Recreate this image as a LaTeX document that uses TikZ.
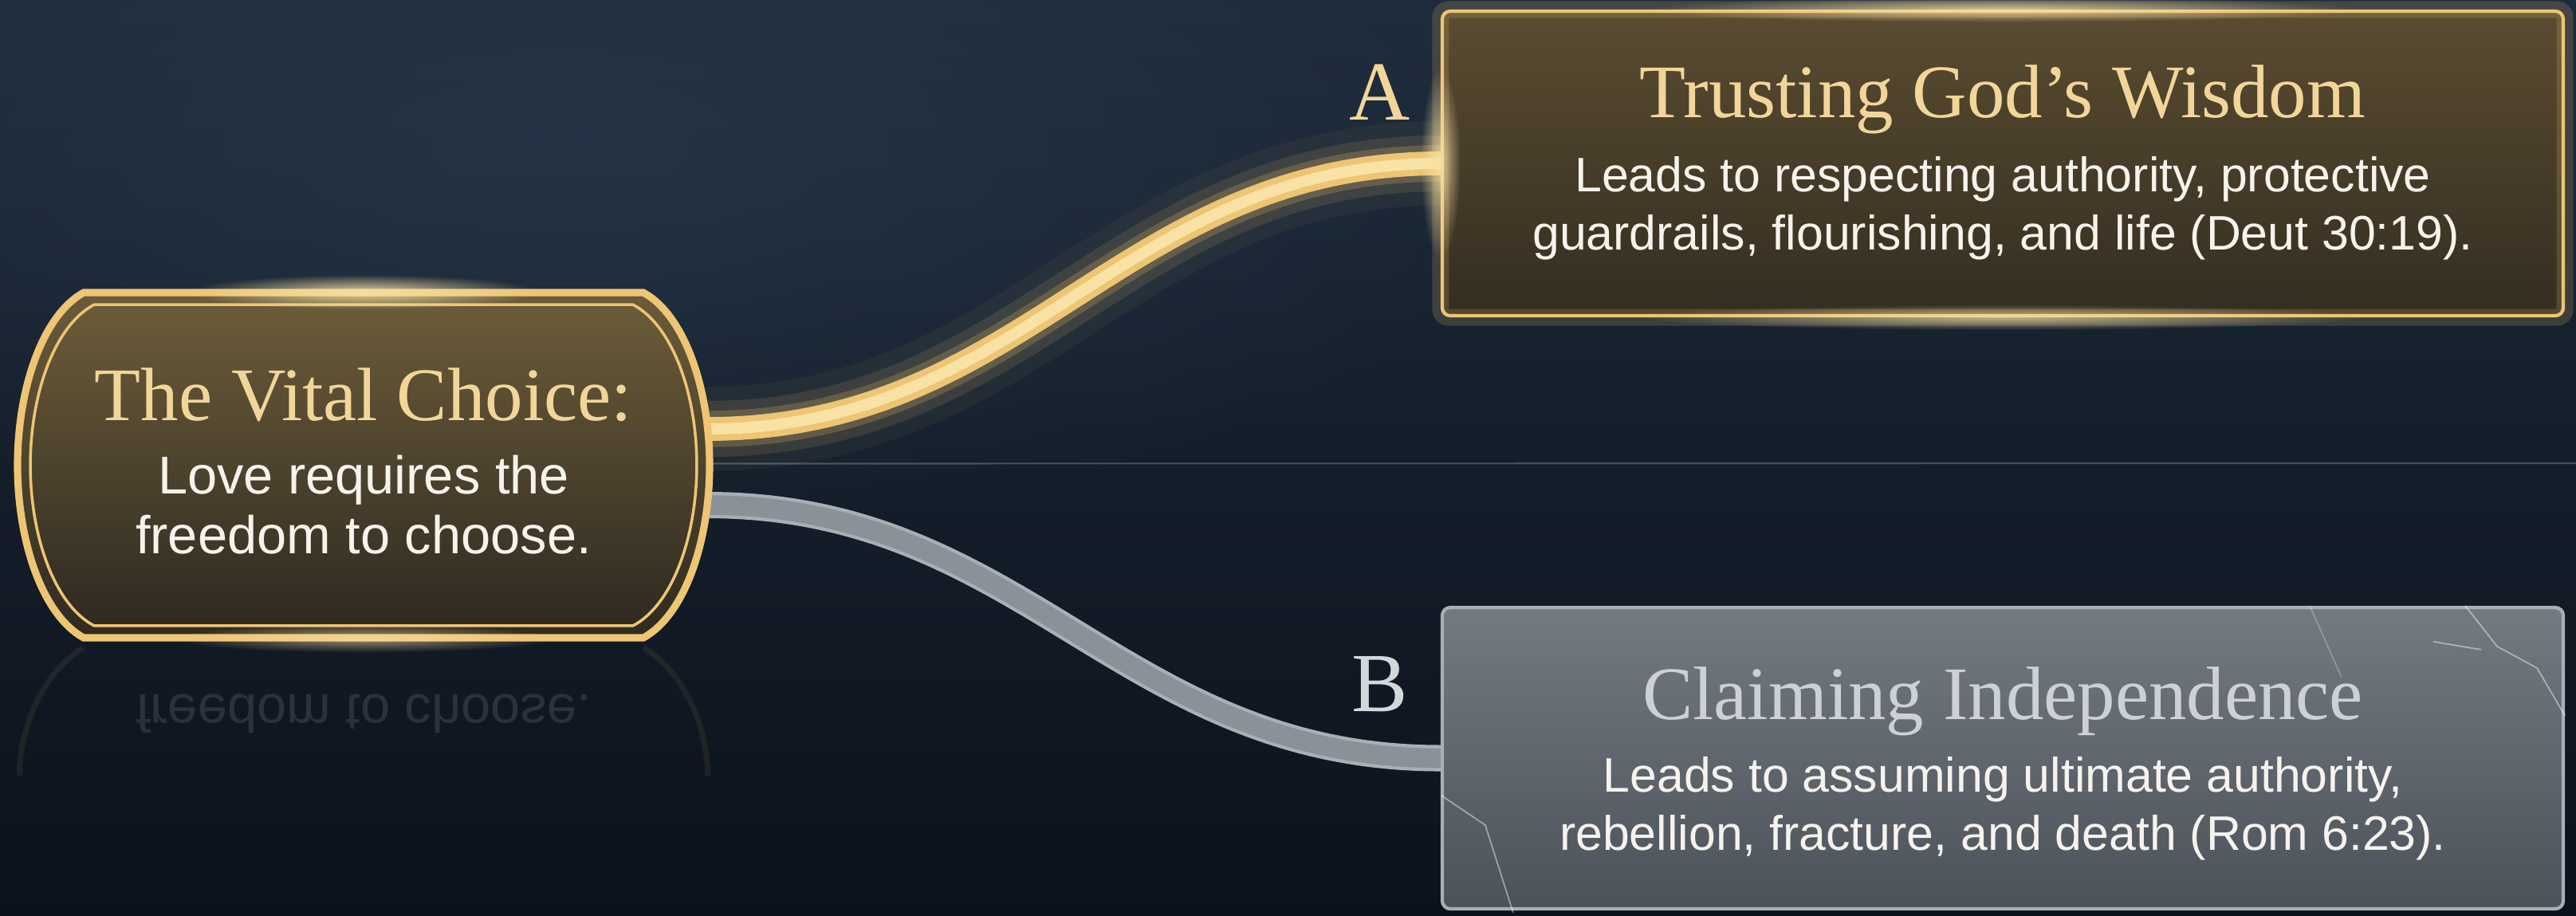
\documentclass[tikz,border=0pt]{standalone}
\usepackage{fontspec}
\setmainfont{Liberation Serif}
\setsansfont{Liberation Sans}
\usepackage{xcolor}
\usetikzlibrary{positioning, calc, fadings}

\definecolor{bgtop}{HTML}{1E2B3B}
\definecolor{bgbot}{HTML}{0B121B}
\definecolor{bglight}{HTML}{2C3D50}
\definecolor{goldline}{HTML}{EDC573}
\definecolor{goldlight}{HTML}{F9E2A6}
\definecolor{goldtext}{HTML}{F2D699}
\definecolor{goldtop}{HTML}{5A4C31}
\definecolor{goldbot}{HTML}{342D21}
\definecolor{choicetop}{HTML}{6B5B39}
\definecolor{choicebot}{HTML}{2F2A21}
\definecolor{greyline}{HTML}{A9AFB6}
\definecolor{greytop}{HTML}{737A82}
\definecolor{greybot}{HTML}{4B525A}
\definecolor{greytext}{HTML}{CDD1D6}
\definecolor{greypath}{HTML}{8A9199}
\definecolor{bodytext}{HTML}{F6F3EC}

\tikzfading[name=glowfade, inner color=transparent!0, outer color=transparent!100]

\pgfdeclarelayer{bg}
\pgfdeclarelayer{links}
\pgfsetlayers{bg,links,main}

\tikzset{
	pathbox/.style={rectangle, rounded corners=1mm, minimum width=14.06cm, minimum height=3.82cm, line width=1.2pt},
	goodbox/.style={pathbox, draw=goldline, top color=goldtop, bottom color=goldbot},
	badbox/.style={pathbox, draw=greyline, top color=greytop, bottom color=greybot, minimum height=3.78cm},
	choicebox/.style={rectangle, minimum width=7.02cm, minimum height=4.33cm, inner sep=0pt},
	heading/.style={font=\fontsize{27}{31}\selectfont, anchor=base},
	bodyline/.style={font=\sffamily\fontsize{17.3}{21}\selectfont, text=bodytext, align=center},
	glowline/.style={line cap=round}
}

\begin{document}
\begin{tikzpicture}[
		letter/.style={font=\fontsize{30}{34}\selectfont, anchor=base},
		crack/.style={white, opacity=0.45, line width=0.5pt}
		]
		\useasboundingbox (0,0) rectangle (32.31,-11.48);
		
		% --- Background ---
		\begin{pgfonlayer}{bg}
			\shade[top color=bgtop, bottom color=bgbot] (0,0) rectangle (32.31,-11.48);
			\fill[bglight, opacity=0.6, path fading=glowfade] (7,-1.8) ellipse (13 and 5);
		\end{pgfonlayer}
		
		% --- Main Nodes ---
		\node[choicebox] (choice) at (4.56,-5.835) {};
		\node[goodbox] (wisdom) at (25.12,-2.05) {};
		\node[badbox] (independence) at (25.12,-9.51) {};
		
		% --- Exit points on the bulged side of the choice plate ---
		\coordinate (choice_out_a) at ($(choice.east)+(0.80,0.455)$);
		\coordinate (choice_out_b) at ($(choice.east)+(0.79,-0.50)$);
		\coordinate (horizon_end) at (32.31,-5.81);
		
		% --- Connectors (under the boxes) ---
		\begin{pgfonlayer}{links}
			\draw[greyline, opacity=0.35, line width=0.6pt] ($(choice.east)+(0.83,0.02)$) -- (horizon_end);
			% gold path with glow
			\foreach \lw/\op in {30pt/0.05, 20pt/0.12, 13pt/0.22}
				\draw[glowline, goldline, line width=\lw, opacity=\op] (choice_out_a) .. controls +(4,0) and +(-4,0) .. (wisdom.west);
			\draw[goldline, line width=8.5pt] (choice_out_a) .. controls +(4,0) and +(-4,0) .. (wisdom.west);
			\draw[goldlight, line width=4pt] (choice_out_a) .. controls +(4,0) and +(-4,0) .. (wisdom.west);
			% stone path
			\draw[greyline, line width=9.4pt] (choice_out_b) .. controls +(4,0) and +(-4,0) .. (independence.west);
			\draw[greypath, line width=7pt] (choice_out_b) .. controls +(4,0) and +(-4,0) .. (independence.west);
		\end{pgfonlayer}
		
		% --- Choice plate: outer and inner frame ---
		\foreach \sx/\sy/\lw in {1/1/2.6pt, 0.963/0.93/1pt}
			\draw[goldline, line width=\lw, top color=choicetop, bottom color=choicebot,
				shift={(choice.center)}, xscale=\sx, yscale=\sy]
				(-3.51,2.165) -- (3.51,2.165)
				.. controls (4.03,1.88) and (4.34,0.95) .. (4.34,0)
				.. controls (4.34,-0.95) and (4.03,-1.88) .. (3.51,-2.165)
				-- (-3.51,-2.165)
				.. controls (-4.03,-1.88) and (-4.34,-0.95) .. (-4.34,0)
				.. controls (-4.34,0.95) and (-4.03,1.88) .. (-3.51,2.165) -- cycle;
		\fill[goldlight, opacity=0.9, path fading=glowfade] (choice.north) ellipse (2.2 and 0.22);
		\fill[goldlight, opacity=0.6, path fading=glowfade] (choice.south) ellipse (2.4 and 0.18);
		
		\node[heading, anchor=center, text=goldtext] (choice_title) at ($(choice.center)+(0,0.885)$) {The Vital Choice:};
		\node[bodyline, font=\sffamily\fontsize{19}{21.5}\selectfont] (choice_body) at ($(choice.center)+(0,-0.495)$) {Love requires the\\freedom to choose.};
		
		% --- Reflection under the plate ---
		\node[bodyline, font=\sffamily\fontsize{19}{21.5}\selectfont, yscale=-1, opacity=0.12] (choice_mirror) at ($(choice.south)+(0,-0.95)$) {freedom to choose.};
		\draw[goldline, opacity=0.08, line width=2pt] ($(choice.south west)+(0,-0.12)$) .. controls +(-0.5,-0.3) and +(0,0.6) .. ++(-0.8,-1.6);
		\draw[goldline, opacity=0.08, line width=2pt] ($(choice.south east)+(0,-0.12)$) .. controls +(0.5,-0.3) and +(0,0.6) .. ++(0.8,-1.6);
		
		% --- Path A: trusting ---
		\draw[goldline, line width=6pt, opacity=0.18, rounded corners=1mm] (wisdom.south west) rectangle (wisdom.north east);
		\fill[goldlight, opacity=0.8, path fading=glowfade] (wisdom.north) ellipse (4.5 and 0.16);
		\fill[goldlight, opacity=0.7, path fading=glowfade] (wisdom.south) ellipse (4.5 and 0.16);
		\fill[goldlight, opacity=0.8, path fading=glowfade] (wisdom.west) ellipse (0.25 and 1.2);
		\node[heading, text=goldtext] (wisdom_title) at ($(wisdom.north)+(0,-1.36)$) {Trusting God’s Wisdom};
		\node[bodyline] (wisdom_body) at ($(wisdom.north)+(0,-2.493)$) {Leads to respecting authority, protective\\guardrails, flourishing, and life (Deut 30:19).};
		\node[letter, text=goldtext] (label_a) at ($(wisdom.north west)+(-0.76,-1.39)$) {A};
		
		% --- Path B: independence ---
		\node[heading, text=greytext] (independence_title) at ($(independence.north)+(0,-1.43)$) {Claiming Independence};
		\node[bodyline] (independence_body) at ($(independence.north)+(0,-2.543)$) {Leads to assuming ultimate authority,\\rebellion, fracture, and death (Rom 6:23).};
		\node[letter, text=greytext!85] (label_b) at ($(independence.north west)+(-0.76,-1.33)$) {B};
		% cracks in the stone
		\draw[crack] ($(independence.north east)+(-1.25,0)$) -- ++(0.4,-0.51) -- ++(0.5,-0.27) -- ++(0.35,-0.6);
		\draw[crack] ($(independence.north east)+(-1.65,-0.45)$) -- ++(0.6,-0.1);
		\draw[crack] ($(independence.north west)+(0.01,-2.38)$) -- ++(0.55,-0.37) -- ++(0.35,-1.1);
		\draw[crack, opacity=0.25] ($(independence.north east)+(-3.2,0)$) -- ++(0.4,-0.9);
		
	\end{tikzpicture}
\end{document}
